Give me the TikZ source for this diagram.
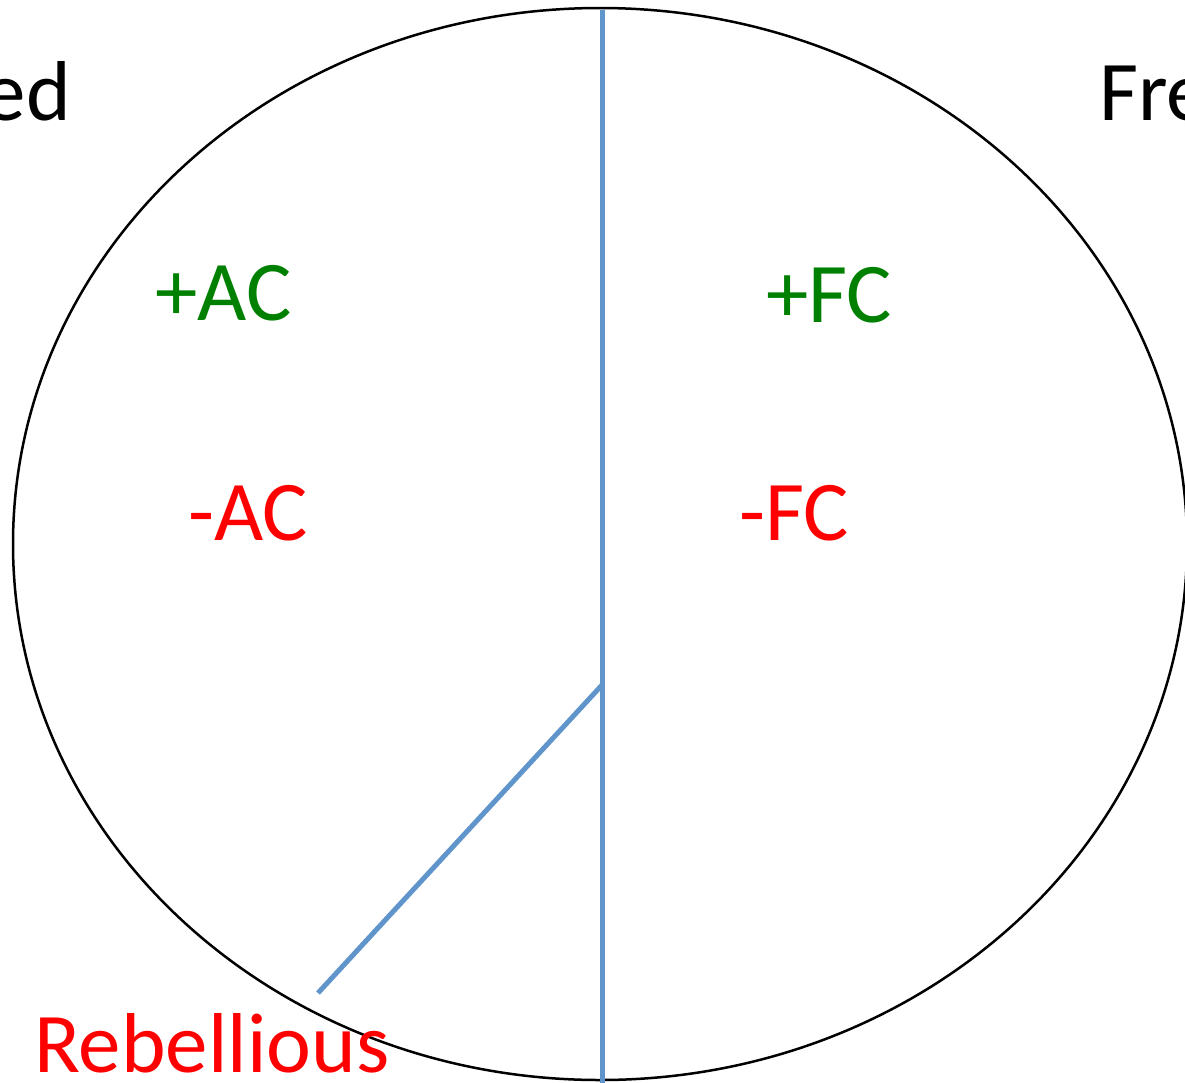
\documentclass[tikz,border=0pt]{standalone}
\usepackage{fontspec}
\setmainfont{Carlito}
\definecolor{lblgreen}{HTML}{008000}
\definecolor{lblred}{HTML}{FF0000}
\definecolor{lineblue}{HTML}{6095CC}
\begin{document}
\begin{tikzpicture}[x=1pt,y=-1pt,
  lbl/.style={font=\fontsize{85}{92}\selectfont, anchor=base west, inner sep=0pt},
  divider/.style={draw=lineblue, line width=5pt}]
\useasboundingbox (0,0) rectangle (1185,1082);
\begin{scope}
\clip (0,0) rectangle (1185,1082);
\draw[line width=2.5pt] (600,544) ellipse [x radius=587, y radius=536];
\coordinate (top) at (602,10);
\coordinate (bot) at (602,1090);
\coordinate (hub) at (602,685);
\coordinate (foot) at (318,993);
\draw[divider] (top) -- (bot);
\draw[divider] (hub) -- (foot);
\node[lbl, anchor=base east] (ed) at (71,120) {ed};
\node[lbl] (fre) at (1099,120) {Fre};
\end{scope}
\node[lbl, text=lblgreen] (pac) at (155,320) {+AC};
\node[lbl, text=lblred] (mac) at (188,540) {-AC};
\node[lbl, text=lblgreen] (pfc) at (766,322) {+FC};
\node[lbl, text=lblred] (mfc) at (739,540) {-FC};
\node[lbl, text=lblred] (reb) at (34,1072) {Rebellious};
\end{tikzpicture}
\end{document}
